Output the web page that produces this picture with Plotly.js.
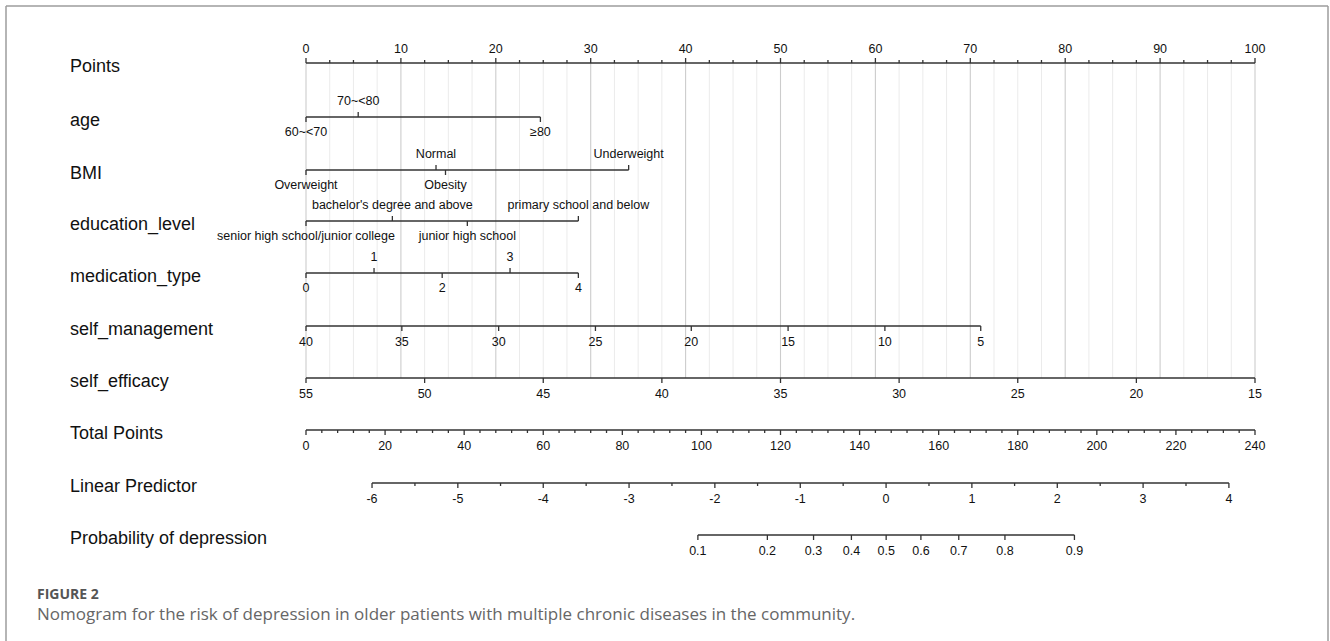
<!DOCTYPE html>
<html><head><meta charset="utf-8">
<script src="https://cdn.plot.ly/plotly-3.0.1.min.js"></script>
<style>html,body{margin:0;padding:0;background:#fff;overflow:hidden}#chart{width:1330px;height:641px}</style>
</head><body><div id="chart"></div>
<script>
// ---------------- DATA ----------------
const pointsTicks = [0,10,20,30,40,50,60,70,80,90,100];
const pointsMinorStep = 2.5;

const ageLevels = ["60~<70","70~<80","\u226580"];
const agePoints = [0, 5.5, 24.7];

const bmiLevels = ["Overweight","Normal","Obesity","Underweight"];
const bmiPoints = [0, 13.7, 14.7, 34.0];

const eduLevels = ["senior high school/junior college","bachelor's degree and above","junior high school","primary school and below"];
const eduPoints = [0, 9.1, 17.0, 28.7];

const medLevels = ["0","1","2","3","4"];
const medPoints = [0, 7.17, 14.35, 21.5, 28.7];

const selfMgmtValues = [40,35,30,25,20,15,10,5];
const selfMgmtPoints = [0, 10.1, 20.3, 30.5, 40.6, 50.8, 61.0, 71.1];

const selfEffValues = [55,50,45,40,35,30,25,20,15];
const selfEffPoints = [0, 12.5, 25, 37.5, 50, 62.5, 75, 87.5, 100];

const totalPointsTicks = [0,20,40,60,80,100,120,140,160,180,200,220,240];
const totalPointsMinorStep = 4;
const totalPointsMax = 240;

const lpTicks = [-6,-5,-4,-3,-2,-1,0,1,2,3,4];
const lpTotalPoints = [16.7,38.4,60.0,81.7,103.4,125.0,146.7,168.4,190.0,211.7,233.4];

const probTicks = [0.1,0.2,0.3,0.4,0.5,0.6,0.7,0.8,0.9];

const rowTitles = ["Points","age","BMI","education_level","medication_type","self_management","self_efficacy","Total Points","Linear Predictor","Probability of depression"];

// ---------------- LAYOUT CONSTANTS ----------------
const W = 1330, H = 641;
const PX0 = 306, PX100 = 1255;
const pxPerPt = (PX100 - PX0) / 100;
const xRange = [-PX0 / pxPerPt, (W - PX0) / pxPerPt];
const rowY = [63,117,170,221,273,326,378,430,483,535];
const FONT = '"Liberation Sans", Arial, sans-serif';
const AX = '#333333', AXW = 1.3;
const LBL = 12.5;

const traces = [];
function addLines(xs, ys, color, width){
  traces.push({type:'scatter',mode:'lines',x:xs,y:ys,line:{color:color,width:width},hoverinfo:'skip',showlegend:false,cliponaxis:false});
}
function addText(xs, ys, texts, size){
  traces.push({type:'scatter',mode:'text',x:xs,y:ys,text:texts,textposition:'middle center',
    textfont:{family:FONT,size:size,color:'#111'},hoverinfo:'skip',showlegend:false,cliponaxis:false});
}
function ticks(xs, y, len){ // len>0 downwards
  const X=[],Y=[];
  xs.forEach(x=>{X.push(x,x,null);Y.push(y,y+len,null);});
  return [X,Y];
}

// gridlines
(function(){
  const mx=[],my=[],Mx=[],My=[];
  const top=rowY[0], bot=rowY[6];
  for(let p=pointsTicks[0]; p<=pointsTicks[pointsTicks.length-1]+1e-9; p+=pointsMinorStep){
    const major = pointsTicks.some(t=>Math.abs(t-p)<1e-9);
    if(major){Mx.push(p,p,null);My.push(top,bot,null);} else {mx.push(p,p,null);my.push(top,bot,null);}
  }
  addLines(mx,my,'#ebebeb',1);
  addLines(Mx,My,'#cccccc',1.1);
})();

// Points axis (ticks upward, labels above)
(function(){
  const y=rowY[0];
  addLines([pointsTicks[0],pointsTicks[pointsTicks.length-1]],[y,y],AX,AXW);
  const minor=[];
  for(let p=pointsTicks[0]; p<=100+1e-9; p+=pointsMinorStep){ if(!pointsTicks.some(t=>Math.abs(t-p)<1e-9)) minor.push(p); }
  let [a,b]=ticks(pointsTicks,y,-5); addLines(a,b,AX,AXW);
  [a,b]=ticks(minor,y,-3); addLines(a,b,AX,AXW);
  addText(pointsTicks, pointsTicks.map(()=>y-13), pointsTicks.map(String), LBL);
})();

// categorical rows: labels alternate below / above in order of points
function catRow(levels, pts, y){
  const order = pts.map((p,i)=>i).sort((i,j)=>pts[i]-pts[j]);
  addLines([Math.min(...pts),Math.max(...pts)],[y,y],AX,AXW);
  const tx=[],ty=[],lx=[],ly=[],lt=[];
  order.forEach((i,k)=>{
    const above = k%2===1;
    tx.push(pts[i],pts[i],null); ty.push(y, above?y-5:y+5, null);
    lx.push(pts[i]); ly.push(above?y-15:y+16); lt.push(levels[i]);
  });
  addLines(tx,ty,AX,AXW);
  addText(lx,ly,lt,LBL);
}
catRow(ageLevels, agePoints, rowY[1]);
catRow(bmiLevels, bmiPoints, rowY[2]);
catRow(eduLevels, eduPoints, rowY[3]);
catRow(medLevels, medPoints, rowY[4]);

// continuous rows
function contRow(values, pts, y){
  addLines([Math.min(...pts),Math.max(...pts)],[y,y],AX,AXW);
  const [a,b]=ticks(pts,y,5); addLines(a,b,AX,AXW);
  addText(pts, pts.map(()=>y+17), values.map(String), LBL);
}
contRow(selfMgmtValues, selfMgmtPoints, rowY[5]);
contRow(selfEffValues, selfEffPoints, rowY[6]);

// Total points
const totToPts = t => t / totalPointsMax * 100;
(function(){
  const y=rowY[7];
  const px = totalPointsTicks.map(totToPts);
  addLines([px[0],px[px.length-1]],[y,y],AX,AXW);
  let [a,b]=ticks(px,y,5); addLines(a,b,AX,AXW);
  const minor=[];
  for(let t=0;t<=totalPointsMax;t+=totalPointsMinorStep){ if(!totalPointsTicks.includes(t)) minor.push(totToPts(t)); }
  [a,b]=ticks(minor,y,3); addLines(a,b,AX,AXW);
  addText(px, px.map(()=>y+17), totalPointsTicks.map(String), LBL);
})();

// Linear predictor
(function(){
  const y=rowY[8];
  const px = lpTotalPoints.map(totToPts);
  addLines([px[0],px[px.length-1]],[y,y],AX,AXW);
  let [a,b]=ticks(px,y,5); addLines(a,b,AX,AXW);
  const minor=[]; for(let i=0;i<px.length-1;i++) minor.push((px[i]+px[i+1])/2);
  [a,b]=ticks(minor,y,3); addLines(a,b,AX,AXW);
  addText(px, px.map(()=>y+17), lpTicks.map(String), LBL);
})();

// Probability
(function(){
  const y=rowY[9];
  const n=lpTicks.length-1;
  const slope=(lpTotalPoints[n]-lpTotalPoints[0])/(lpTicks[n]-lpTicks[0]);
  const lpToTot = lp => lpTotalPoints[0] + (lp-lpTicks[0])*slope;
  const px = probTicks.map(p=>totToPts(lpToTot(Math.log(p/(1-p)))));
  addLines([px[0],px[px.length-1]],[y,y],AX,AXW);
  const [a,b]=ticks(px,y,5); addLines(a,b,AX,AXW);
  addText(px, px.map(()=>y+17), probTicks.map(String), LBL);
})();

// row titles
const annotations = rowTitles.map((t,i)=>({
  text:t, xref:'paper', yref:'y', x:68/W, y:rowY[i]+3, xanchor:'left', yanchor:'middle',
  showarrow:false, font:{family:FONT,size:18,color:'#111'}
}));
annotations.push({text:'<b>FIGURE 2</b>', xref:'paper', yref:'y', x:35/W, y:593, xanchor:'left', yanchor:'middle',
  showarrow:false, font:{family:'"Open Sans", "Noto Sans", sans-serif', size:14, color:'#555'}});
annotations.push({text:'Nomogram for the risk of depression in older patients with multiple chronic diseases in the community.',
  xref:'paper', yref:'y', x:35/W, y:613, xanchor:'left', yanchor:'middle',
  showarrow:false, font:{family:'"Open Sans", "Noto Sans", sans-serif', size:17, color:'#666'}});

const frame = {color:'#9c9c9c', width:1.5};
const shapes = [
  {type:'line', xref:'paper', yref:'y', x0:6/W, x1:6/W, y0:6, y1:H, line:frame},
  {type:'line', xref:'paper', yref:'y', x0:6/W, x1:1328/W, y0:6, y1:6, line:frame},
  {type:'line', xref:'paper', yref:'y', x0:1328/W, x1:1328/W, y0:6, y1:H, line:frame}
];

const layout = {
  width:W, height:H, margin:{l:0,r:0,t:0,b:0},
  paper_bgcolor:'#fff', plot_bgcolor:'#fff',
  xaxis:{range:xRange, visible:false, fixedrange:true},
  yaxis:{range:[H,0], visible:false, fixedrange:true},
  annotations:annotations, shapes:shapes, showlegend:false
};
Plotly.newPlot('chart', traces, layout, {displayModeBar:false, staticPlot:true});
</script></body></html>
